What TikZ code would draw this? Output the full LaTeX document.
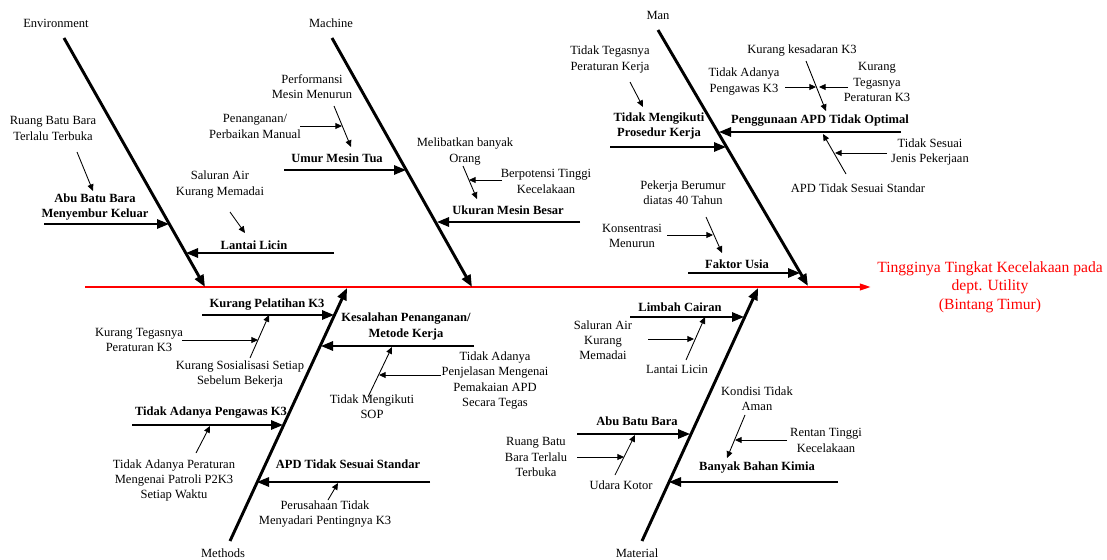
\documentclass[tikz,border=0pt]{standalone}
\usepackage{fontspec}
\setmainfont{Liberation Serif}
\usepackage{tikz}
\usetikzlibrary{arrows.meta}
\tikzstyle{cause} = [font=\fontsize{9.4}{11.4}\selectfont, align=center, inner sep=0pt]
\tikzstyle{maincause} = [font=\fontsize{9.4}{11.4}\selectfont\bfseries, align=center, inner sep=0pt]
\tikzstyle{effect} = [font=\fontsize{11.7}{13.9}\selectfont, align=center, text=red, inner sep=0pt, outer sep=5pt]
\tikzstyle{spine} = [red, line width=1.1pt, -{Triangle[length=8pt,width=5pt]}]
\tikzstyle{bone} = [line width=2.2pt, -{Triangle[length=9pt,width=7pt]}]
\tikzstyle{branch} = [line width=1.5pt, -{Triangle[length=9pt,width=7pt]}]
\tikzstyle{twig} = [line width=0.65pt, -{Triangle[length=5pt,width=4.5pt]}]

\begin{document}
\begin{tikzpicture}[x=0.75pt, y=-0.75pt]
	\useasboundingbox (0,0) rectangle (1107,560);

		\node [effect] (effect) at (990,287) {Tingginya Tingkat Kecelakaan pada\\dept. Utility\\(Bintang Timur)};

		\node [cause] (env) at (56,23) {Environment};
		\node [cause] (mac) at (331,23) {Machine};
		\node [cause] (man) at (658,15) {Man};
		\node [cause] (met) at (223,553) {Methods};
		\node [cause] (mat) at (637,553) {Material};

		\node [cause] (ruang1) at (53,128.5) {Ruang Batu Bara\\Terlalu Terbuka};
		\node [maincause] (abu1) at (95,207) {Abu Batu Bara\\Menyembur Keluar};
		\node [cause] (saluran1) at (220,184.5) {Saluran Air\\Kurang Memadai};
		\node [maincause] (lantai1) at (254,245) {Lantai Licin};

		\node [cause] (perf) at (312,86.5) {Performansi\\Mesin Menurun};
		\node [cause] (penang) at (255,126.5) {Penanganan/\\Perbaikan Manual};
		\node [maincause] (umur) at (337,158) {Umur Mesin Tua};
		\node [cause] (meli) at (465,151.5) {Melibatkan banyak\\Orang};
		\node [cause] (berpot) at (546,181.5) {Berpotensi Tinggi\\Kecelakaan};
		\node [maincause] (ukuran) at (508,210) {Ukuran Mesin Besar};

		\node [cause] (tegas) at (610,59.5) {Tidak Tegasnya\\Peraturan Kerja};
		\node [maincause] (ikuti) at (659,126) {Tidak Mengikuti\\Prosedur Kerja};
		\node [cause] (sadar) at (802,51) {Kurang kesadaran K3};
		\node [cause] (awas) at (744,81.5) {Tidak Adanya\\Pengawas K3};
		\node [cause] (kurangteg) at (877,82) {Kurang\\Tegasnya\\Peraturan K3};
		\node [maincause] (apd1) at (820,121) {Penggunaan APD Tidak Optimal};
		\node [cause] (sesuai) at (930,152) {Tidak Sesuai\\Jenis Pekerjaan};
		\node [cause] (standar) at (858,188) {APD Tidak Sesuai Standar};
		\node [cause] (berumur) at (683,193) {Pekerja Berumur\\diatas 40 Tahun};
		\node [cause] (konsen) at (632,236) {Konsentrasi\\Menurun};
		\node [maincause] (usia) at (737,264) {Faktor Usia};

		\node [maincause] (latih) at (267,305) {Kurang Pelatihan K3};
		\node [cause] (kteg) at (139,340) {Kurang Tegasnya\\Peraturan K3};
		\node [cause] (sosial) at (240,374) {Kurang Sosialisasi Setiap\\Sebelum Bekerja};
		\node [maincause] (salah) at (406,326.5) {Kesalahan Penanganan/\\Metode Kerja};
		\node [cause] (jelas) at (495,380.5) {Tidak Adanya\\Penjelasan Mengenai\\Pemakaian APD\\Secara Tegas};
		\node [cause] (sop) at (372,406.5) {Tidak Mengikuti\\SOP};
		\node [maincause] (pengawas) at (211,413) {Tidak Adanya Pengawas K3};
		\node [cause] (patroli) at (174,480.5) {Tidak Adanya Peraturan\\Mengenai Patroli P2K3\\Setiap Waktu};
		\node [maincause] (apd2) at (348,464) {APD Tidak Sesuai Standar};
		\node [cause] (perus) at (325,514) {Perusahaan Tidak\\Menyadari Pentingnya K3};

		\node [maincause] (limbah) at (680,307) {Limbah Cairan};
		\node [cause] (saluran2) at (603,340.5) {Saluran Air\\Kurang\\Memadai};
		\node [cause] (lantai2) at (677,369) {Lantai Licin};
		\node [maincause] (abu2) at (637,421) {Abu Batu Bara};
		\node [cause] (ruang2) at (536,457) {Ruang Batu\\Bara Terlalu\\Terbuka};
		\node [cause] (udara) at (621,485) {Udara Kotor};
		\node [cause] (kondisi) at (757,398.5) {Kondisi Tidak\\Aman};
		\node [cause] (rentan) at (826,440.5) {Rentan Tinggi\\Kecelakaan};
		\node [maincause] (kimia) at (757,468) {Banyak Bahan Kimia};

		\coordinate (spS) at (85,287);
		\coordinate (envS) at (64,38);
		\coordinate (envE) at (205,287);
		\coordinate (macS) at (332,38);
		\coordinate (macE) at (472,287);
		\coordinate (manS) at (658,30);
		\coordinate (manE) at (808,286);
		\coordinate (metS) at (230,541);
		\coordinate (metE) at (347,288);
		\coordinate (matS) at (642,541);
		\coordinate (matE) at (758,288);

		\coordinate (abuA) at (44,224);      \coordinate (abuB) at (169,224);
		\coordinate (lanA) at (334,253);     \coordinate (lanB) at (186,253);
		\coordinate (umuA) at (284,170);     \coordinate (umuB) at (406,170);
		\coordinate (ukuA) at (580,222);     \coordinate (ukuB) at (437,222);
		\coordinate (ikuA) at (610,147);     \coordinate (ikuB) at (726,147);
		\coordinate (apdA) at (901,132);     \coordinate (apdB) at (719,132);
		\coordinate (usiA) at (688,273);     \coordinate (usiB) at (800,273);
		\coordinate (latA) at (202,315);     \coordinate (latB) at (334,315);
		\coordinate (salA) at (474,346);     \coordinate (salB) at (321,346);
		\coordinate (pgwA) at (132,425);     \coordinate (pgwB) at (283,425);
		\coordinate (apsA) at (430,482);     \coordinate (apsB) at (257,482);
		\coordinate (limA) at (630,317);     \coordinate (limB) at (744,317);
		\coordinate (abbA) at (577,434);     \coordinate (abbB) at (690,434);
		\coordinate (kimA) at (838,482);     \coordinate (kimB) at (669,482);

		\coordinate (ru1A) at (77,152);      \coordinate (ru1B) at (93,191);
		\coordinate (sa1A) at (230,212);     \coordinate (sa1B) at (245,233);
		\coordinate (perA) at (334,106);     \coordinate (perB) at (351,147);
		\coordinate (penA) at (300,126);     \coordinate (penB) at (342,126);
		\coordinate (melA) at (463,166);     \coordinate (melB) at (477,199);
		\coordinate (berA) at (502,180);     \coordinate (berB) at (469,180);
		\coordinate (tegA) at (630,82);      \coordinate (tegB) at (643,107);
		\coordinate (sadA) at (806,61);      \coordinate (sadB) at (826,111);
		\coordinate (awaA) at (785,87);      \coordinate (awaB) at (816,87);
		\coordinate (kutA) at (848,87);      \coordinate (kutB) at (819,87);
		\coordinate (sesA) at (887,153);     \coordinate (sesB) at (835,153);
		\coordinate (staA) at (846,174);     \coordinate (staB) at (823,134);
		\coordinate (bruA) at (706,217);     \coordinate (bruB) at (722,253);
		\coordinate (konA) at (667,235);     \coordinate (konB) at (713,235);
		\coordinate (ktgA) at (182,340);     \coordinate (ktgB) at (258,340);
		\coordinate (sosA) at (250,358);     \coordinate (sosB) at (269,315);
		\coordinate (jelA) at (441,375);     \coordinate (jelB) at (379,375);
		\coordinate (sopA) at (368,397);     \coordinate (sopB) at (392,347);
		\coordinate (patA) at (196,453);     \coordinate (patB) at (210,426);
		\coordinate (prsA) at (328,500);     \coordinate (prsB) at (338,483);
		\coordinate (sa2A) at (648,339);     \coordinate (sa2B) at (694,339);
		\coordinate (la2A) at (686,360);     \coordinate (la2B) at (705,317);
		\coordinate (ru2A) at (577,457);     \coordinate (ru2B) at (624,457);
		\coordinate (udaA) at (615,475);     \coordinate (udaB) at (635,435);
		\coordinate (konA2) at (745,415);    \coordinate (konB2) at (727,458);
		\coordinate (renA) at (787,440);     \coordinate (renB) at (735,440);

		\draw[spine] (spS) -- (effect.west);

		\draw[bone] (envS) -- (envE);
		\draw[bone] (macS) -- (macE);
		\draw[bone] (manS) -- (manE);
		\draw[bone] (metS) -- (metE);
		\draw[bone] (matS) -- (matE);

		\draw[branch] (abuA) -- (abuB);
		\draw[branch] (lanA) -- (lanB);
		\draw[branch] (umuA) -- (umuB);
		\draw[branch] (ukuA) -- (ukuB);
		\draw[branch] (ikuA) -- (ikuB);
		\draw[branch] (apdA) -- (apdB);
		\draw[branch] (usiA) -- (usiB);
		\draw[branch] (latA) -- (latB);
		\draw[branch] (salA) -- (salB);
		\draw[branch] (pgwA) -- (pgwB);
		\draw[branch] (apsA) -- (apsB);
		\draw[branch] (limA) -- (limB);
		\draw[branch] (abbA) -- (abbB);
		\draw[branch] (kimA) -- (kimB);

		\draw[twig] (ru1A) -- (ru1B);
		\draw[twig] (sa1A) -- (sa1B);
		\draw[twig] (perA) -- (perB);
		\draw[twig] (penA) -- (penB);
		\draw[twig] (melA) -- (melB);
		\draw[twig] (berA) -- (berB);
		\draw[twig] (tegA) -- (tegB);
		\draw[twig] (sadA) -- (sadB);
		\draw[twig] (awaA) -- (awaB);
		\draw[twig] (kutA) -- (kutB);
		\draw[twig] (sesA) -- (sesB);
		\draw[twig] (staA) -- (staB);
		\draw[twig] (bruA) -- (bruB);
		\draw[twig] (konA) -- (konB);
		\draw[twig] (ktgA) -- (ktgB);
		\draw[twig] (sosA) -- (sosB);
		\draw[twig] (jelA) -- (jelB);
		\draw[twig] (sopA) -- (sopB);
		\draw[twig] (patA) -- (patB);
		\draw[twig] (prsA) -- (prsB);
		\draw[twig] (sa2A) -- (sa2B);
		\draw[twig] (la2A) -- (la2B);
		\draw[twig] (ru2A) -- (ru2B);
		\draw[twig] (udaA) -- (udaB);
		\draw[twig] (konA2) -- (konB2);
		\draw[twig] (renA) -- (renB);

	\end{tikzpicture}
\end{document}
